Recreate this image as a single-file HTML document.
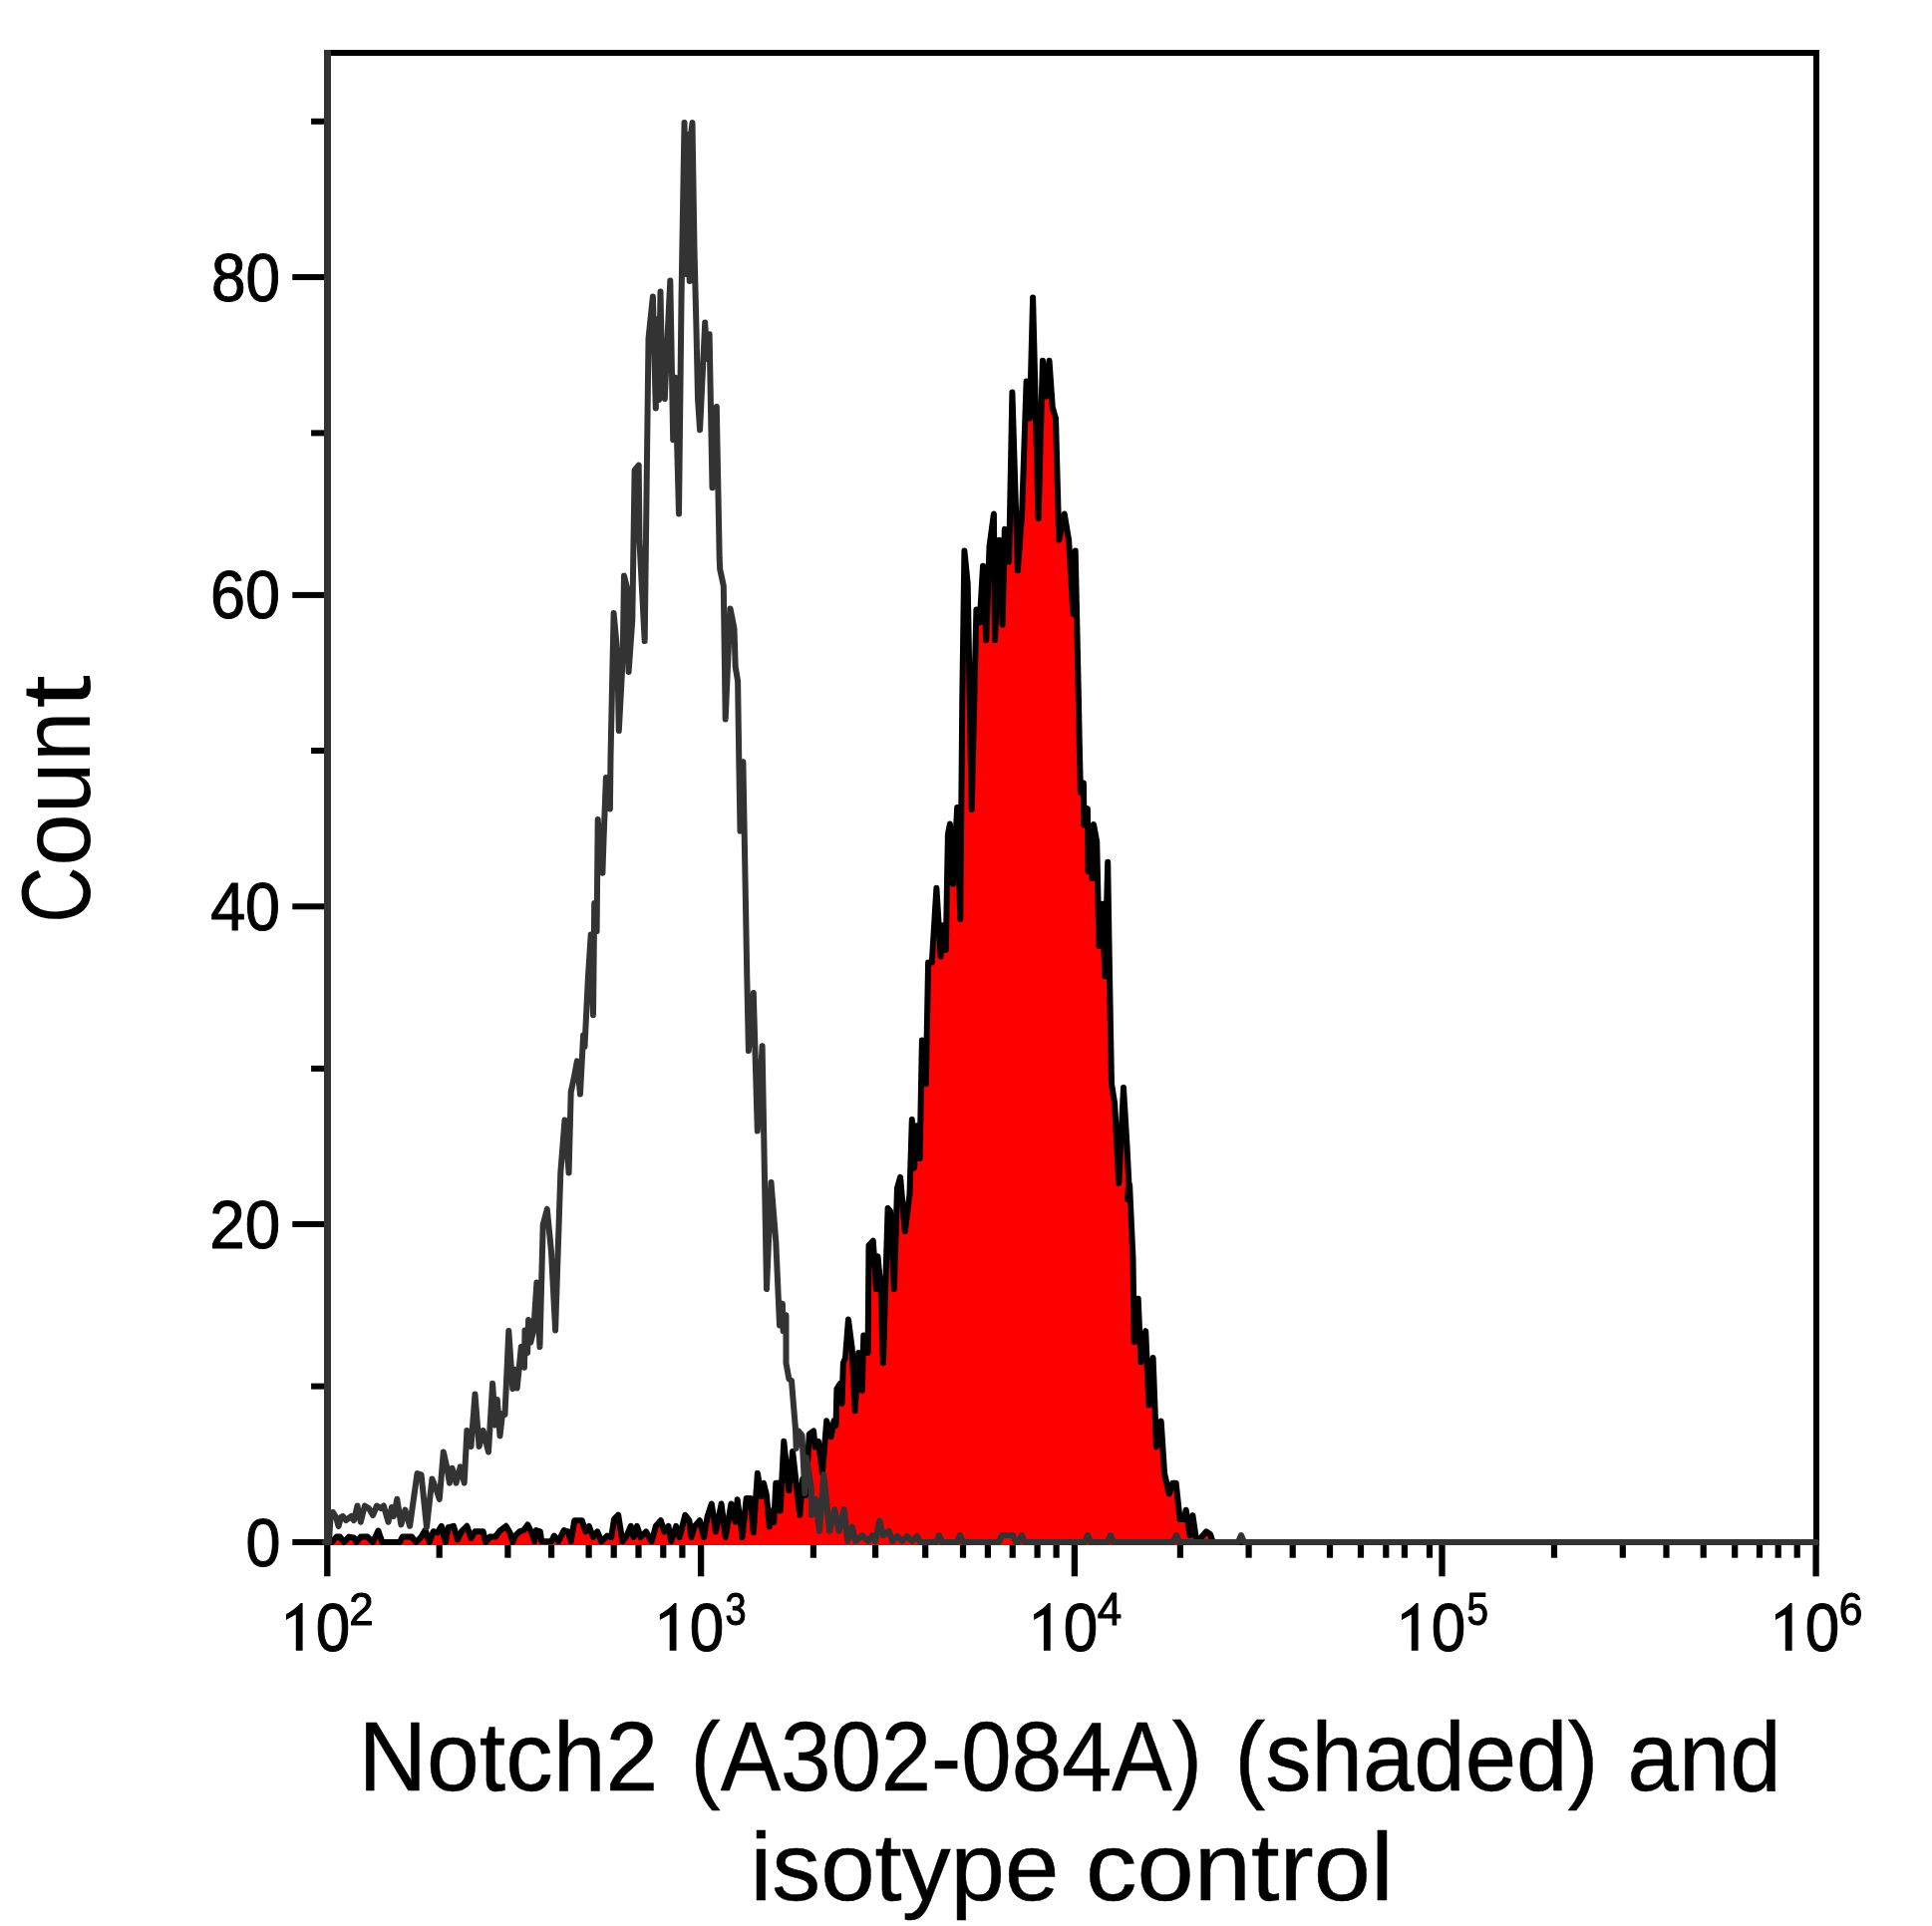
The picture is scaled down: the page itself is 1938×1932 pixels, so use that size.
<!DOCTYPE html>
<html><head><meta charset="utf-8"><title>Notch2 flow cytometry histogram</title>
<style>html,body{margin:0;padding:0;background:#fff;}body{width:1938px;height:1932px;font-family:"Liberation Sans", sans-serif;}</style>
</head><body>
<svg width="1938" height="1932" viewBox="0 0 1938 1932" style="display:block">
<rect width="1938" height="1932" fill="#fff"/>
<rect x="325" y="50" width="1500" height="6" fill="#000"/>
<rect x="1819" y="50" width="6" height="1500" fill="#000"/>
<rect x="325" y="1544" width="1499" height="6" fill="#333"/>
<rect x="325" y="50" width="7" height="1500" fill="#333"/>
<rect x="293.3" y="1544" width="31.7" height="6" fill="#000"/>
<rect x="293.3" y="1225" width="31.7" height="6" fill="#000"/>
<rect x="293.3" y="906.3" width="31.7" height="6" fill="#000"/>
<rect x="293.3" y="593.9" width="31.7" height="6" fill="#000"/>
<rect x="293.3" y="275" width="31.7" height="6" fill="#000"/>
<rect x="312.1" y="1387.6" width="12.9" height="6" fill="#000"/>
<rect x="312.1" y="1068.9" width="12.9" height="6" fill="#000"/>
<rect x="312.1" y="750" width="12.9" height="6" fill="#000"/>
<rect x="312.1" y="431.4" width="12.9" height="6" fill="#000"/>
<rect x="312.1" y="118.8" width="12.9" height="6" fill="#000"/>
<rect x="325.15" y="1550" width="6.3" height="31.3" fill="#000"/>
<rect x="699.95" y="1550" width="6.3" height="31.3" fill="#000"/>
<rect x="1074.75" y="1550" width="6.3" height="31.3" fill="#000"/>
<rect x="1443.35" y="1550" width="6.3" height="31.3" fill="#000"/>
<rect x="1818.45" y="1550" width="6.3" height="31.3" fill="#000"/>
<rect x="437.6" y="1550" width="6.2" height="12.7" fill="#000"/>
<rect x="506.3" y="1550" width="6.2" height="12.7" fill="#000"/>
<rect x="550" y="1550" width="6.2" height="12.7" fill="#000"/>
<rect x="587.5" y="1550" width="6.2" height="12.7" fill="#000"/>
<rect x="612.6" y="1550" width="6.2" height="12.7" fill="#000"/>
<rect x="637.4" y="1550" width="6.2" height="12.7" fill="#000"/>
<rect x="662.2" y="1550" width="6.2" height="12.7" fill="#000"/>
<rect x="681.3" y="1550" width="6.2" height="12.7" fill="#000"/>
<rect x="812.8" y="1550" width="6.2" height="12.7" fill="#000"/>
<rect x="875" y="1550" width="6.2" height="12.7" fill="#000"/>
<rect x="925.1" y="1550" width="6.2" height="12.7" fill="#000"/>
<rect x="962.9" y="1550" width="6.2" height="12.7" fill="#000"/>
<rect x="987.8" y="1550" width="6.2" height="12.7" fill="#000"/>
<rect x="1012.6" y="1550" width="6.2" height="12.7" fill="#000"/>
<rect x="1037.5" y="1550" width="6.2" height="12.7" fill="#000"/>
<rect x="1056.5" y="1550" width="6.2" height="12.7" fill="#000"/>
<rect x="1180.8" y="1550" width="6.2" height="12.7" fill="#000"/>
<rect x="1249.5" y="1550" width="6.2" height="12.7" fill="#000"/>
<rect x="1293.6" y="1550" width="6.2" height="12.7" fill="#000"/>
<rect x="1330.9" y="1550" width="6.2" height="12.7" fill="#000"/>
<rect x="1361.9" y="1550" width="6.2" height="12.7" fill="#000"/>
<rect x="1387.2" y="1550" width="6.2" height="12.7" fill="#000"/>
<rect x="1405.8" y="1550" width="6.2" height="12.7" fill="#000"/>
<rect x="1430.9" y="1550" width="6.2" height="12.7" fill="#000"/>
<rect x="1555.9" y="1550" width="6.2" height="12.7" fill="#000"/>
<rect x="1624.7" y="1550" width="6.2" height="12.7" fill="#000"/>
<rect x="1668.4" y="1550" width="6.2" height="12.7" fill="#000"/>
<rect x="1705.6" y="1550" width="6.2" height="12.7" fill="#000"/>
<rect x="1737.1" y="1550" width="6.2" height="12.7" fill="#000"/>
<rect x="1761.9" y="1550" width="6.2" height="12.7" fill="#000"/>
<rect x="1780.6" y="1550" width="6.2" height="12.7" fill="#000"/>
<rect x="1799.6" y="1550" width="6.2" height="12.7" fill="#000"/>
<polygon points="326,1550 326,1547 332.8,1547 337.5,1541.6 341,1541.6 345,1547 350,1541.6 355,1542.5 357.5,1547 361.8,1541.6 368.6,1541.6 374,1547 379.4,1535.5 383.4,1547 401,1547 403.7,1541.6 413.1,1541.6 417.2,1547 422.6,1541.6 426.6,1534.8 430.7,1547 434.7,1536.2 438.8,1537.5 442.8,1530.8 446.9,1547 449.6,1532.1 455,1530.8 459,1544.3 463,1536.2 468.4,1530.8 472.5,1543 476.5,1536.2 484.6,1536.2 487.3,1547 491.4,1541.6 496.8,1541.6 500.8,1536.2 507.6,1530.8 511.6,1537.5 514.3,1547 516.8,1540.6 521,1536.4 525.2,1535 529.3,1529.4 533.5,1537.8 536.3,1546.2 537.7,1535 541.9,1536.4 543.3,1546.2 553.1,1546.2 555.9,1540.6 560.1,1546.2 565.7,1535 569.9,1536.4 572.7,1546.2 576.2,1525.2 579.7,1525.2 583.8,1525.2 587.3,1536.4 590.8,1530.8 595,1542 599.2,1536.4 603.4,1546.2 609,1540.6 613.2,1542 616,1523.8 620.2,1519.7 624.4,1546.2 628.6,1540.6 632.8,1530.8 635.6,1542 639,1530.8 642.5,1542 648.1,1536.4 653.7,1546.2 657.9,1530.8 662.8,1525.2 666.3,1536.4 670.5,1530.8 673.3,1546.2 678.2,1530.8 681.7,1542 687.3,1519.7 691.4,1525.2 693.5,1542 697,1530.8 701.9,1525.2 706.1,1542 709.6,1521.1 713.8,1508.5 718,1536.4 723.6,1508.5 727.8,1542 733.4,1508.5 737.6,1526.6 739.7,1504.3 744.6,1542 748.7,1502.9 752.9,1502.9 755.8,1537.3 759.9,1477.7 763.8,1500.9 766,1487.8 768.9,1499.5 771.8,1531.5 774,1515.5 776.2,1527.1 778.3,1487.8 781.2,1487.8 782.7,1515.5 786.3,1445.7 791.4,1495.1 795.1,1455.9 802.3,1519.8 805.2,1483.5 808,1500 811.8,1438.4 816.1,1435.5 817.6,1451.5 821,1446 824.9,1477.7 829.2,1425.3 833.6,1441.3 836.5,1425.3 838.5,1430 839.4,1393.4 843,1387.6 844.5,1407.9 845.9,1367.2 848,1362 851,1323.6 854.7,1352.7 857.6,1415.2 861.2,1357 864.8,1394.8 866.3,1339.6 870.6,1357 871.5,1249.3 875.8,1244.7 879,1293 880.5,1260.2 883.6,1293 885.9,1367.2 890.6,1211.9 893,1215 896.9,1293 900,1191.7 903.1,1180.8 907.8,1235.3 912.5,1197.9 914.8,1123.1 917.1,1171.4 919.5,1129.3 922.6,1162.1 924.9,1043.6 928.8,1087.3 931.1,965.6 934.8,965.6 939.4,890.8 943.6,959.3 945.7,928.2 948.8,953.1 950.9,836.8 952.9,826.5 956,886.7 960.2,809.9 963.3,922 965.3,700 967.4,552.6 970.7,585.3 974.7,811.9 979.4,611.4 982.7,624.5 986,567.8 989.3,642 992.5,548.2 996.9,515.5 998,642 1002.3,541.7 1005.6,626.7 1007.8,530.8 1012.1,563.5 1015.4,393.4 1020.9,572.2 1025.2,513.3 1029.6,382.5 1032.9,419.6 1036.1,298.5 1041.6,519.9 1045.9,361.8 1049.2,397.8 1052.5,361.8 1055.8,408.7 1059,419.6 1062.3,541.7 1067.7,515.5 1072.1,541.7 1076.5,615.8 1078.7,552.6 1081.9,700 1082.7,743.4 1083.9,794.8 1086.9,785.4 1087.4,827.4 1090.9,811.1 1091.6,874.1 1094,830 1095.5,881.1 1097,827 1100.2,843.8 1102.5,948.9 1106,906.8 1108.4,979.2 1111.2,864.8 1113,976.9 1115,1087 1118.2,1107.3 1122.3,1186.9 1127,1091.1 1130.4,1147.8 1132.4,1186.9 1131,1203 1133.1,1188.3 1136.5,1262.5 1137.7,1345.9 1139,1303 1141.7,1302.7 1144.4,1366.2 1149.2,1335.1 1152.5,1409.4 1156.6,1362.1 1160,1451.2 1164.7,1425.6 1168.1,1478.2 1172.8,1498.5 1176.2,1487.7 1179.7,1487.7 1183.6,1524.1 1187.6,1524.1 1189.7,1514.7 1193.7,1540.3 1196.4,1520.1 1199.8,1543 1204.5,1543 1209.9,1536.3 1214,1539 1216.7,1547 1822,1547 1822,1550" fill="#f00"/>
<polyline points="326,1547 332.8,1547 337.5,1541.6 341,1541.6 345,1547 350,1541.6 355,1542.5 357.5,1547 361.8,1541.6 368.6,1541.6 374,1547 379.4,1535.5 383.4,1547 401,1547 403.7,1541.6 413.1,1541.6 417.2,1547 422.6,1541.6 426.6,1534.8 430.7,1547 434.7,1536.2 438.8,1537.5 442.8,1530.8 446.9,1547 449.6,1532.1 455,1530.8 459,1544.3 463,1536.2 468.4,1530.8 472.5,1543 476.5,1536.2 484.6,1536.2 487.3,1547 491.4,1541.6 496.8,1541.6 500.8,1536.2 507.6,1530.8 511.6,1537.5 514.3,1547 516.8,1540.6 521,1536.4 525.2,1535 529.3,1529.4 533.5,1537.8 536.3,1546.2 537.7,1535 541.9,1536.4 543.3,1546.2 553.1,1546.2 555.9,1540.6 560.1,1546.2 565.7,1535 569.9,1536.4 572.7,1546.2 576.2,1525.2 579.7,1525.2 583.8,1525.2 587.3,1536.4 590.8,1530.8 595,1542 599.2,1536.4 603.4,1546.2 609,1540.6 613.2,1542 616,1523.8 620.2,1519.7 624.4,1546.2 628.6,1540.6 632.8,1530.8 635.6,1542 639,1530.8 642.5,1542 648.1,1536.4 653.7,1546.2 657.9,1530.8 662.8,1525.2 666.3,1536.4 670.5,1530.8 673.3,1546.2 678.2,1530.8 681.7,1542 687.3,1519.7 691.4,1525.2 693.5,1542 697,1530.8 701.9,1525.2 706.1,1542 709.6,1521.1 713.8,1508.5 718,1536.4 723.6,1508.5 727.8,1542 733.4,1508.5 737.6,1526.6 739.7,1504.3 744.6,1542 748.7,1502.9 752.9,1502.9 755.8,1537.3 759.9,1477.7 763.8,1500.9 766,1487.8 768.9,1499.5 771.8,1531.5 774,1515.5 776.2,1527.1 778.3,1487.8 781.2,1487.8 782.7,1515.5 786.3,1445.7 791.4,1495.1 795.1,1455.9 802.3,1519.8 805.2,1483.5 808,1500 811.8,1438.4 816.1,1435.5 817.6,1451.5 821,1446 824.9,1477.7 829.2,1425.3 833.6,1441.3 836.5,1425.3 838.5,1430 839.4,1393.4 843,1387.6 844.5,1407.9 845.9,1367.2 848,1362 851,1323.6 854.7,1352.7 857.6,1415.2 861.2,1357 864.8,1394.8 866.3,1339.6 870.6,1357 871.5,1249.3 875.8,1244.7 879,1293 880.5,1260.2 883.6,1293 885.9,1367.2 890.6,1211.9 893,1215 896.9,1293 900,1191.7 903.1,1180.8 907.8,1235.3 912.5,1197.9 914.8,1123.1 917.1,1171.4 919.5,1129.3 922.6,1162.1 924.9,1043.6 928.8,1087.3 931.1,965.6 934.8,965.6 939.4,890.8 943.6,959.3 945.7,928.2 948.8,953.1 950.9,836.8 952.9,826.5 956,886.7 960.2,809.9 963.3,922 965.3,700 967.4,552.6 970.7,585.3 974.7,811.9 979.4,611.4 982.7,624.5 986,567.8 989.3,642 992.5,548.2 996.9,515.5 998,642 1002.3,541.7 1005.6,626.7 1007.8,530.8 1012.1,563.5 1015.4,393.4 1020.9,572.2 1025.2,513.3 1029.6,382.5 1032.9,419.6 1036.1,298.5 1041.6,519.9 1045.9,361.8 1049.2,397.8 1052.5,361.8 1055.8,408.7 1059,419.6 1062.3,541.7 1067.7,515.5 1072.1,541.7 1076.5,615.8 1078.7,552.6 1081.9,700 1082.7,743.4 1083.9,794.8 1086.9,785.4 1087.4,827.4 1090.9,811.1 1091.6,874.1 1094,830 1095.5,881.1 1097,827 1100.2,843.8 1102.5,948.9 1106,906.8 1108.4,979.2 1111.2,864.8 1113,976.9 1115,1087 1118.2,1107.3 1122.3,1186.9 1127,1091.1 1130.4,1147.8 1132.4,1186.9 1131,1203 1133.1,1188.3 1136.5,1262.5 1137.7,1345.9 1139,1303 1141.7,1302.7 1144.4,1366.2 1149.2,1335.1 1152.5,1409.4 1156.6,1362.1 1160,1451.2 1164.7,1425.6 1168.1,1478.2 1172.8,1498.5 1176.2,1487.7 1179.7,1487.7 1183.6,1524.1 1187.6,1524.1 1189.7,1514.7 1193.7,1540.3 1196.4,1520.1 1199.8,1543 1204.5,1543 1209.9,1536.3 1214,1539 1216.7,1547 1822,1547" fill="none" stroke="#000" stroke-width="6" stroke-linejoin="round" stroke-linecap="round"/>
<polyline points="326,1547 330,1547 331.5,1522 334,1517 337,1522 339.6,1531 342,1522 344,1521 347,1525 352.4,1521 355,1525 358.5,1510.5 361.8,1526.7 365.9,1510.5 370,1513 374,1520 378,1510.5 382,1513 384.8,1510.5 389.5,1526.7 392.9,1512 394.9,1521 398.3,1503.8 402.3,1529.4 406.4,1514.6 411.1,1530.8 414.5,1506.5 418.5,1478.1 422.6,1479.4 428,1532.1 433.4,1483.5 436.7,1491.6 440.8,1503.8 444.8,1456.5 448.2,1471.4 450.9,1487.6 453.6,1472.8 457.6,1487.6 461.7,1471.4 465.7,1487.6 468.4,1435 472.5,1451.1 476.5,1398.5 480.6,1451.1 484.6,1435 490,1456.5 494.1,1387.7 496.8,1429.6 498.8,1403.9 501.5,1440.4 504,1418 506.5,1418.8 510.3,1335.1 514.3,1393.1 516.6,1373.8 518.7,1392.5 522.8,1351 526,1371.8 526.5,1334.4 529.1,1357.2 530.1,1324 532.2,1346.8 535.3,1334.4 538.4,1286.6 541.5,1351 544.7,1228.5 548.8,1212.9 553,1255.5 557.1,1334.4 562.3,1176.5 566.5,1123.6 570.6,1176.5 572.7,1095.5 575.8,1081 578.9,1064.4 582,1097.6 585.1,1038.4 586.5,1050 589.9,980.8 592.7,937.6 595,1018.2 596.2,906.1 598.6,934.1 599.7,822 604.4,875.7 605.5,843 607.9,779.9 611.9,811.4 612.5,760 615.6,615 619.3,655 620.8,733 624.7,660 626,577.6 629.5,592 630.6,674 634.3,622 636.6,471.6 640.7,466.6 641.5,543 646.7,643 650.5,339.6 654.9,297.4 657.8,409.4 659.3,320 661,401 662.5,292.5 664.5,395 665.6,345 666.8,400 668.5,360 672.3,281.5 675.2,441.3 677.4,378.8 681,515.5 683.5,300 686.5,123 688.3,275 689.8,135 691.7,282 693,135 694.5,123 696.5,250 698.5,330 700,400 702.1,431.2 707.2,323.6 709,360 711.6,335.2 714.5,489.3 718.8,407.9 721.7,560 722.2,571 725.8,587.7 727.7,721.4 732.5,610.4 736.5,630.7 737.7,668.9 740.1,683.2 741.3,764.3 742.5,833.6 745.4,764.3 749.3,980 750.9,1054.1 755.8,996.1 759.8,1134.6 764.6,1049.2 769,1293 773.5,1186.1 778.3,1245.7 782,1329.4 784.9,1307.6 785.6,1335.2 788.5,1319.2 788.5,1367.2 791.4,1383.2 794,1385 798,1434.1 798.7,1453 800.9,1435.5 804.5,1439.9 807.4,1498 808.9,1461.7 814,1493.7 814,1519.8 818.3,1503.8 822,1535.8 826.3,1479.1 832.1,1535.8 837.2,1514 841.6,1535.8 846.7,1514 850.3,1546 854.7,1531.5 858.3,1546 864.8,1540.2 870.6,1546 875,1540.2 878,1546 882.3,1525.6 885.9,1540.2 891.7,1535.8 895.3,1546 900,1541 905,1546 910,1541 915,1546 920,1541 923,1547 939,1547 942,1540 945,1547 960,1547 963,1540 966,1547 1002,1547 1005,1540 1016,1540 1019,1547 1022,1547 1025,1540 1028,1547 1088,1547 1091,1540 1094,1547 1111,1547 1114,1540 1117,1547 1177,1547 1180,1540 1183,1547 1242,1547 1245,1540 1248,1547 1822,1547" fill="none" stroke="#333" stroke-width="6" stroke-linejoin="round" stroke-linecap="round"/>
<path transform="translate(-0.20 0)" d="M301.8 1608.1L303.8 1608.1L303.8 1655.8L297 1655.8L297 1619.4L287.2 1624.9L287.2 1619.2Q296.5 1614.2 301.8 1608.1Z" fill="#000"/>
<path transform="translate(374.70 0)" d="M301.8 1608.1L303.8 1608.1L303.8 1655.8L297 1655.8L297 1619.4L287.2 1624.9L287.2 1619.2Q296.5 1614.2 301.8 1608.1Z" fill="#000"/>
<path transform="translate(749.90 0)" d="M301.8 1608.1L303.8 1608.1L303.8 1655.8L297 1655.8L297 1619.4L287.2 1624.9L287.2 1619.2Q296.5 1614.2 301.8 1608.1Z" fill="#000"/>
<path transform="translate(1118.80 0)" d="M301.8 1608.1L303.8 1608.1L303.8 1655.8L297 1655.8L297 1619.4L287.2 1624.9L287.2 1619.2Q296.5 1614.2 301.8 1608.1Z" fill="#000"/>
<path transform="translate(1493.80 0)" d="M301.8 1608.1L303.8 1608.1L303.8 1655.8L297 1655.8L297 1619.4L287.2 1624.9L287.2 1619.2Q296.5 1614.2 301.8 1608.1Z" fill="#000"/>
<g opacity="0.999">
<text transform="matrix(0.94901 0 0 0.97500 264.66 1601.50)" x="100" y="200" font-family='"Liberation Sans", sans-serif' font-size="100" stroke="#000" stroke-width="0.52" stroke-linejoin="round">Notch2</text>
<text transform="matrix(0.90559 0 0 0.97500 601.96 1601.50)" x="100" y="200" font-family='"Liberation Sans", sans-serif' font-size="100" stroke="#000" stroke-width="0.53" stroke-linejoin="round">(A302-084A)</text>
<text transform="matrix(0.92402 0 0 0.97500 1146.20 1601.50)" x="100" y="200" font-family='"Liberation Sans", sans-serif' font-size="100" stroke="#000" stroke-width="0.53" stroke-linejoin="round">(shaded)</text>
<text transform="matrix(0.92420 0 0 0.97500 1540.13 1601.50)" x="100" y="200" font-family='"Liberation Sans", sans-serif' font-size="100" stroke="#000" stroke-width="0.53" stroke-linejoin="round">and</text>
<text transform="matrix(0.97752 0 0 0.96500 654.83 1712.90)" x="100" y="200" font-family='"Liberation Sans", sans-serif' font-size="100" stroke="#000" stroke-width="0.51" stroke-linejoin="round">isotype</text>
<text transform="matrix(1.02897 0 0 0.96500 986.24 1712.90)" x="100" y="200" font-family='"Liberation Sans", sans-serif' font-size="100" stroke="#000" stroke-width="0.50" stroke-linejoin="round">control</text>
<text transform="matrix(0 -0.77812 0.97500 0 -105.20 1003.60)" x="100" y="200" font-family='"Liberation Sans", sans-serif' font-size="100">C</text>
<text transform="matrix(0 -0.94167 0.97500 0 -105.20 963.03)" x="100" y="200" font-family='"Liberation Sans", sans-serif' font-size="100">o</text>
<text transform="matrix(0 -0.92326 0.97500 0 -105.20 908.37)" x="100" y="200" font-family='"Liberation Sans", sans-serif' font-size="100">u</text>
<text transform="matrix(0 -0.90227 0.97500 0 -105.20 853.94)" x="100" y="200" font-family='"Liberation Sans", sans-serif' font-size="100">n</text>
<text transform="matrix(0 -1.20000 0.97500 0 -105.20 830.40)" x="100" y="200" font-family='"Liberation Sans", sans-serif' font-size="100">t</text>
<text transform="matrix(0.62857 0 0 0.68873 183.76 1432.96)" x="100" y="200" font-family='"Liberation Sans", sans-serif' font-size="100" stroke="#000" stroke-width="1.52" stroke-linejoin="round">0</text>
<text transform="matrix(0.63786 0 0 0.69155 146.52 1113.40)" x="100" y="200" font-family='"Liberation Sans", sans-serif' font-size="100" stroke="#000" stroke-width="1.50" stroke-linejoin="round">20</text>
<text transform="matrix(0.62830 0 0 0.68873 148.31 794.96)" x="100" y="200" font-family='"Liberation Sans", sans-serif' font-size="100" stroke="#000" stroke-width="1.52" stroke-linejoin="round">40</text>
<text transform="matrix(0.62913 0 0 0.68873 148.14 482.76)" x="100" y="200" font-family='"Liberation Sans", sans-serif' font-size="100" stroke="#000" stroke-width="1.52" stroke-linejoin="round">60</text>
<text transform="matrix(0.62115 0 0 0.69155 149.90 163.40)" x="100" y="200" font-family='"Liberation Sans", sans-serif' font-size="100" stroke="#000" stroke-width="1.52" stroke-linejoin="round">80</text>
<text transform="matrix(0.62041 0 0 0.68592 254.70 1518.43)" x="100" y="200" font-family='"Liberation Sans", sans-serif' font-size="100" stroke="#000" stroke-width="1.53" stroke-linejoin="round">0</text>
<text transform="matrix(0.62041 0 0 0.68592 629.60 1518.43)" x="100" y="200" font-family='"Liberation Sans", sans-serif' font-size="100" stroke="#000" stroke-width="1.53" stroke-linejoin="round">0</text>
<text transform="matrix(0.62041 0 0 0.68592 1004.80 1518.43)" x="100" y="200" font-family='"Liberation Sans", sans-serif' font-size="100" stroke="#000" stroke-width="1.53" stroke-linejoin="round">0</text>
<text transform="matrix(0.62041 0 0 0.68592 1373.70 1518.43)" x="100" y="200" font-family='"Liberation Sans", sans-serif' font-size="100" stroke="#000" stroke-width="1.53" stroke-linejoin="round">0</text>
<text transform="matrix(0.62041 0 0 0.68592 1748.70 1518.43)" x="100" y="200" font-family='"Liberation Sans", sans-serif' font-size="100" stroke="#000" stroke-width="1.53" stroke-linejoin="round">0</text>
<text transform="matrix(0.43913 0 0 0.47000 306.39 1536.50)" x="100" y="200" font-family='"Liberation Sans", sans-serif' font-size="100" stroke="#000" stroke-width="2.20" stroke-linejoin="round">2</text>
<text transform="matrix(0.37917 0 0 0.46620 689.47 1536.89)" x="100" y="200" font-family='"Liberation Sans", sans-serif' font-size="100" stroke="#000" stroke-width="2.37" stroke-linejoin="round">3</text>
<text transform="matrix(0.44118 0 0 0.46714 1056.70 1536.77)" x="100" y="200" font-family='"Liberation Sans", sans-serif' font-size="100" stroke="#000" stroke-width="2.20" stroke-linejoin="round">4</text>
<text transform="matrix(0.38750 0 0 0.46714 1432.80 1536.30)" x="100" y="200" font-family='"Liberation Sans", sans-serif' font-size="100" stroke="#000" stroke-width="2.34" stroke-linejoin="round">5</text>
<text transform="matrix(0.42553 0 0 0.46479 1802.22 1537.18)" x="100" y="200" font-family='"Liberation Sans", sans-serif' font-size="100" stroke="#000" stroke-width="2.25" stroke-linejoin="round">6</text>
</g>
</svg>
</body></html>
